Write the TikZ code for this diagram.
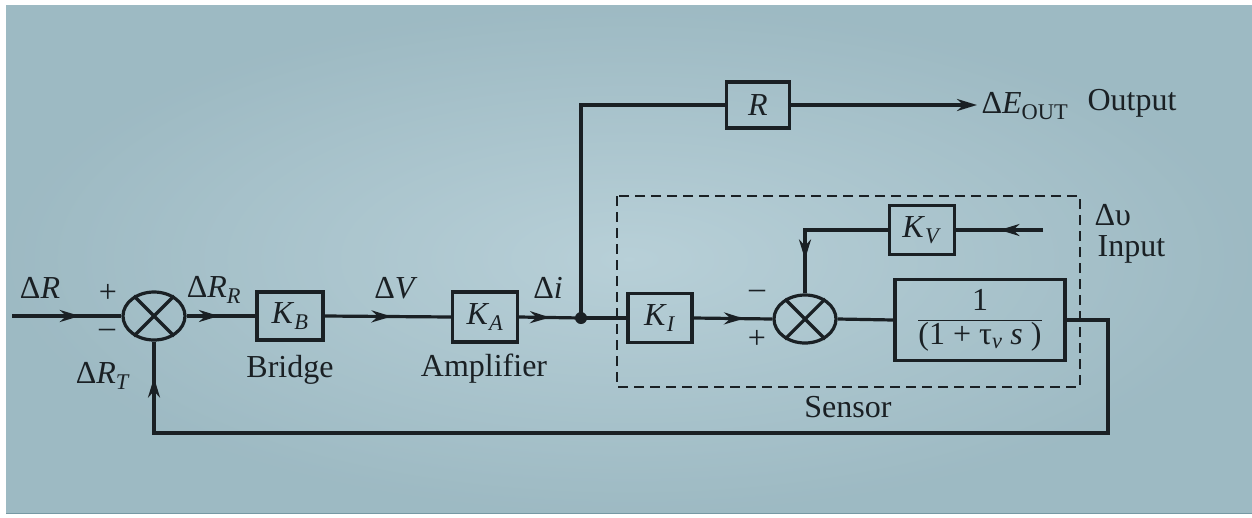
\documentclass[tikz,border=0pt]{standalone}
\usepackage{fontspec}
\setmainfont{Liberation Serif}
\usetikzlibrary{shapes.geometric,arrows.meta,decorations.markings,calc}
\definecolor{paperin}{RGB}{184,208,216}
\definecolor{paperout}{RGB}{118,153,164}
\definecolor{ink}{RGB}{26,32,36}
\newcommand\itl[1]{\textit{#1}}
\newcommand\sbs[1]{\textsubscript{\textit{#1}}}
\begin{document}
\begin{tikzpicture}[x=1pt,y=-1pt,
  line width=3.2pt, draw=ink, text=ink,
  every node/.style={font=\fontsize{32}{30}\selectfont},
  blk/.style={draw=ink, line width=3.2pt, rectangle, inner sep=0pt},
  sumj/.style={draw=ink, line width=3.2pt, ellipse, minimum width=62pt, minimum height=48pt, inner sep=0pt},
  tip/.style={-{Stealth[length=20pt,width=12pt]}},
  midarrow/.style={postaction={decorate},decoration={markings,mark=at position #1 with {\arrow{Stealth[length=20pt,width=12pt]}}}},
  lbl/.style={inner sep=0pt}
]
\useasboundingbox (0,0) rectangle (1252,517);
\fill[white] (0,0) rectangle (1252,517);
\shade[inner color=paperin, outer color=paperout, shading=radial] (6,5) rectangle (1252,513);
\fill[paperin, opacity=0.6] (6,5) rectangle (1252,513);

% blocks
\node[sumj] (s1) at (154,316) {};
\node[blk, minimum width=66pt, minimum height=48pt] (kb) at (290,316) {\itl{K}\sbs{B}};
\node[blk, minimum width=65pt, minimum height=50pt] (ka) at (485,317) {\itl{K}\sbs{A}};
\fill[ink] (581,318) circle (6pt);
\coordinate (dot) at (581,318);
\node[blk, minimum width=64pt, minimum height=49pt] (ki) at (660,318) {\itl{K}\sbs{I}};
\node[sumj] (s2) at (805,319) {};
\node[blk, minimum width=65pt, minimum height=49pt] (kv) at (922,230) {\itl{K}\sbs{V}};
\node[blk, minimum width=170pt, minimum height=81pt] (tf) at (980,320)
  {$\displaystyle\frac{\mbox{1}}{\mbox{(1 + τ\sbs{v} \itl{s} )}}$};
\node[blk, minimum width=63pt, minimum height=46pt] (r) at (758,105) {\itl{R}};

% crosses in summing junctions
\foreach \s in {s1,s2}{
  \draw (\s.45) -- (\s.225);
  \draw (\s.135) -- (\s.315);
}

% dashed sensor box
\draw[dashed, dash pattern=on 10pt off 6pt, line width=2.4pt] (617,196) rectangle (1080,387);

% coordinates
\coordinate (in) at (12,316);
\coordinate (vin) at (1043,230);
\coordinate (out) at (977,105);
\coordinate (c1) at (1108,320);
\coordinate (c2) at (1108,433);
\coordinate (c3) at (154,433);
\coordinate (c4) at (581,105);
\coordinate (c5) at (805,230);

% connectors
\draw[midarrow=0.62] (in) -- (s1.west);
\draw[midarrow=0.47] (s1.east) -- (kb.west);
\draw[midarrow=0.53] (kb.east) -- (ka.west);
\draw[midarrow=0.5] (ka.east) -- (dot);
\draw (dot) -- (ki.west);
\draw[midarrow=0.64] (ki.east) -- (s2.west);
\draw (s2.east) -- (tf.west);
\draw[midarrow=0.5] (vin) -- (kv.east);
\draw[midarrow=-34pt] (kv.west) -- (c5) -- (s2.north);
\draw[midarrow=-36pt] (tf.east |- c1) -- (c1) -- (c2) -- (c3) -- (s1.south);
\draw (dot) -- (c4) -- (r.west);
\draw[tip] (r.east) -- (out);

% labels
\node[lbl] at (40,288) {Δ\itl{R}};
\node[lbl] at (108,293) {+};
\node[lbl] at (107,333) {–};
\node[lbl] at (214,290) {Δ\itl{R}\sbs{R}};
\node[lbl] at (103,376) {Δ\itl{R}\sbs{T}};
\node[lbl] at (396,288) {Δ\itl{V}};
\node[lbl] at (548,288) {Δ\itl{i}};
\node[lbl] at (290,370) {Bridge};
\node[lbl] at (484,369) {Amplifier};
\node[lbl] at (757,294) {–};
\node[lbl] at (757,339) {+};
\node[lbl] at (848,407) {Sensor};
\node[lbl, anchor=base west] (dv) at (1093,225) {Δυ};
\node[lbl, anchor=base west] (inp) at (1096,256) {Input};
\node[lbl, anchor=west] at (980,106) {Δ\itl{E}\textsubscript{OUT}};
\node[lbl, anchor=west] at (1086,103) {Output};
\end{tikzpicture}
\end{document}
